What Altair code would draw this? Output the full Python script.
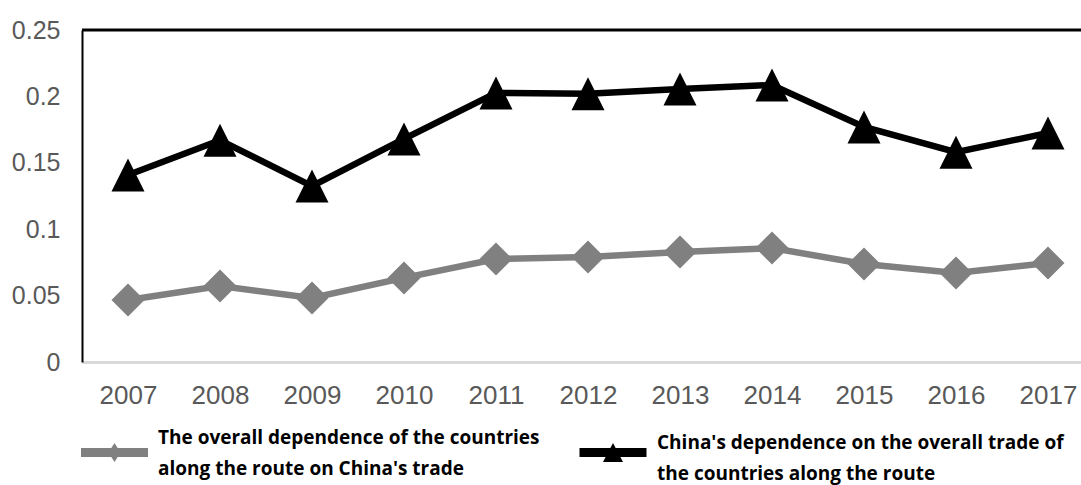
import altair as alt
import pandas as pd

# Trade-dependence indices, 2007-2017
years = [2007, 2008, 2009, 2010, 2011, 2012, 2013, 2014, 2015, 2016, 2017]
route_on_china = [0.0467, 0.0572, 0.0482, 0.0633, 0.0776, 0.0790, 0.0828, 0.0858, 0.0738, 0.0670, 0.0745]
china_on_route = [0.1408, 0.1670, 0.1325, 0.1680, 0.2026, 0.2020, 0.2056, 0.2086, 0.1770, 0.1580, 0.1724]

series_names = [
    "The overall dependence of the countries\nalong the route on China's trade",
    "China's dependence on the overall trade of\nthe countries along the route",
]
series_colors = ["#808080", "#000000"]
y_ticks = [0, 0.05, 0.1, 0.15, 0.2, 0.25]

rows = []
for name, vals in zip(series_names, [route_on_china, china_on_route]):
    for yr, v in zip(years, vals):
        rows.append({"year": yr, "series": name, "value": v})
df = pd.DataFrame(rows)

# marker shapes (unit square paths)
DIAMOND = "M0,-1L1,0L0,1L-1,0Z"
TRIANGLE = "M0,-1L1,1L-1,1Z"
# legend glyphs: thick line segment with a small marker in the middle
LEG_DIAMOND = ("M-3.35,-0.45L-0.316,-0.45L0,-0.95L0.316,-0.45L3.35,-0.45L3.35,0.45"
               "L0.316,0.45L0,0.95L-0.316,0.45L-3.35,0.45Z")
LEG_TRIANGLE = ("M-3.35,-0.45L-0.263,-0.45L0,-0.95L0.263,-0.45L3.35,-0.45L3.35,0.45"
                "L0.737,0.45L1,0.95L-1,0.95L-0.737,0.45L-3.35,0.45Z")
marker_paths = [DIAMOND, TRIANGLE]
legend_paths = [LEG_DIAMOND, LEG_TRIANGLE]

x_enc = alt.X(
    "year:Q",
    scale=alt.Scale(domain=[2006.5, 2017.359], nice=False, zero=False),
    axis=alt.Axis(
        title=None, values=years, format="d", grid=False, ticks=False,
        domainColor="#d9d9d9", domainWidth=3,
        labelFont="Liberation Sans", labelFontSize=26, labelColor="#595959",
        labelPadding=20,
    ),
)
y_enc = alt.Y(
    "value:Q",
    scale=alt.Scale(domain=[0, 0.25], nice=False),
    axis=alt.Axis(
        title=None, values=y_ticks, format="~g", grid=False, ticks=False,
        domainColor="#000000", domainWidth=2,
        labelFont="Liberation Sans", labelFontSize=25, labelColor="#595959",
        labelPadding=22,
    ),
)

stroke = alt.Stroke("series:N", scale=alt.Scale(domain=series_names, range=series_colors), legend=None)
fill = alt.Fill("series:N", scale=alt.Scale(domain=series_names, range=series_colors), legend=None)
shape = alt.Shape("series:N", scale=alt.Scale(domain=series_names, range=marker_paths), legend=None)

base = alt.Chart(df)
lines = base.mark_line(strokeWidth=6.5).encode(x=x_enc, y=y_enc, stroke=stroke)
points = base.mark_point(filled=True, size=1089, opacity=1, strokeWidth=0).encode(
    x=x_enc, y=y_enc, fill=fill, shape=shape
)
top_border = alt.Chart(pd.DataFrame({"v": [0.25]})).mark_rule(color="#000000", strokeWidth=3).encode(
    y=alt.Y("v:Q")
)

# legend below the plot: glyph + two-line label for each series
legend_layers = []
glyph_x = [32.5, 531]
label_x = [76, 575]
label_y = [408, 413]
for i, name in enumerate(series_names):
    entry = alt.Chart(pd.DataFrame({"label": [name]}))
    legend_layers.append(
        entry.mark_point(shape=legend_paths[i], size=400, filled=True, opacity=1,
                         strokeWidth=0, color=series_colors[i])
        .encode(x=alt.value(glyph_x[i]), y=alt.value(422.5))
    )
    legend_layers.append(
        entry.mark_text(align="left", baseline="middle", lineBreak="\n", lineHeight=30.5,
                        font="Open Sans", fontSize=19, fontWeight="bold", color="#000000")
        .encode(text="label:N", x=alt.value(label_x[i]), y=alt.value(label_y[i]))
    )

chart = (
    alt.layer(top_border, lines, points, *legend_layers)
    .properties(
        width=999,
        height=332,
        autosize=alt.AutoSizeParams(type="none"),
        padding={"left": 82, "top": 30, "right": 0, "bottom": 123},
    )
    .configure(background="white", view=alt.ViewConfig(stroke=None))
)

chart.save("out.html", embed_options={"renderer": "svg", "actions": False})
